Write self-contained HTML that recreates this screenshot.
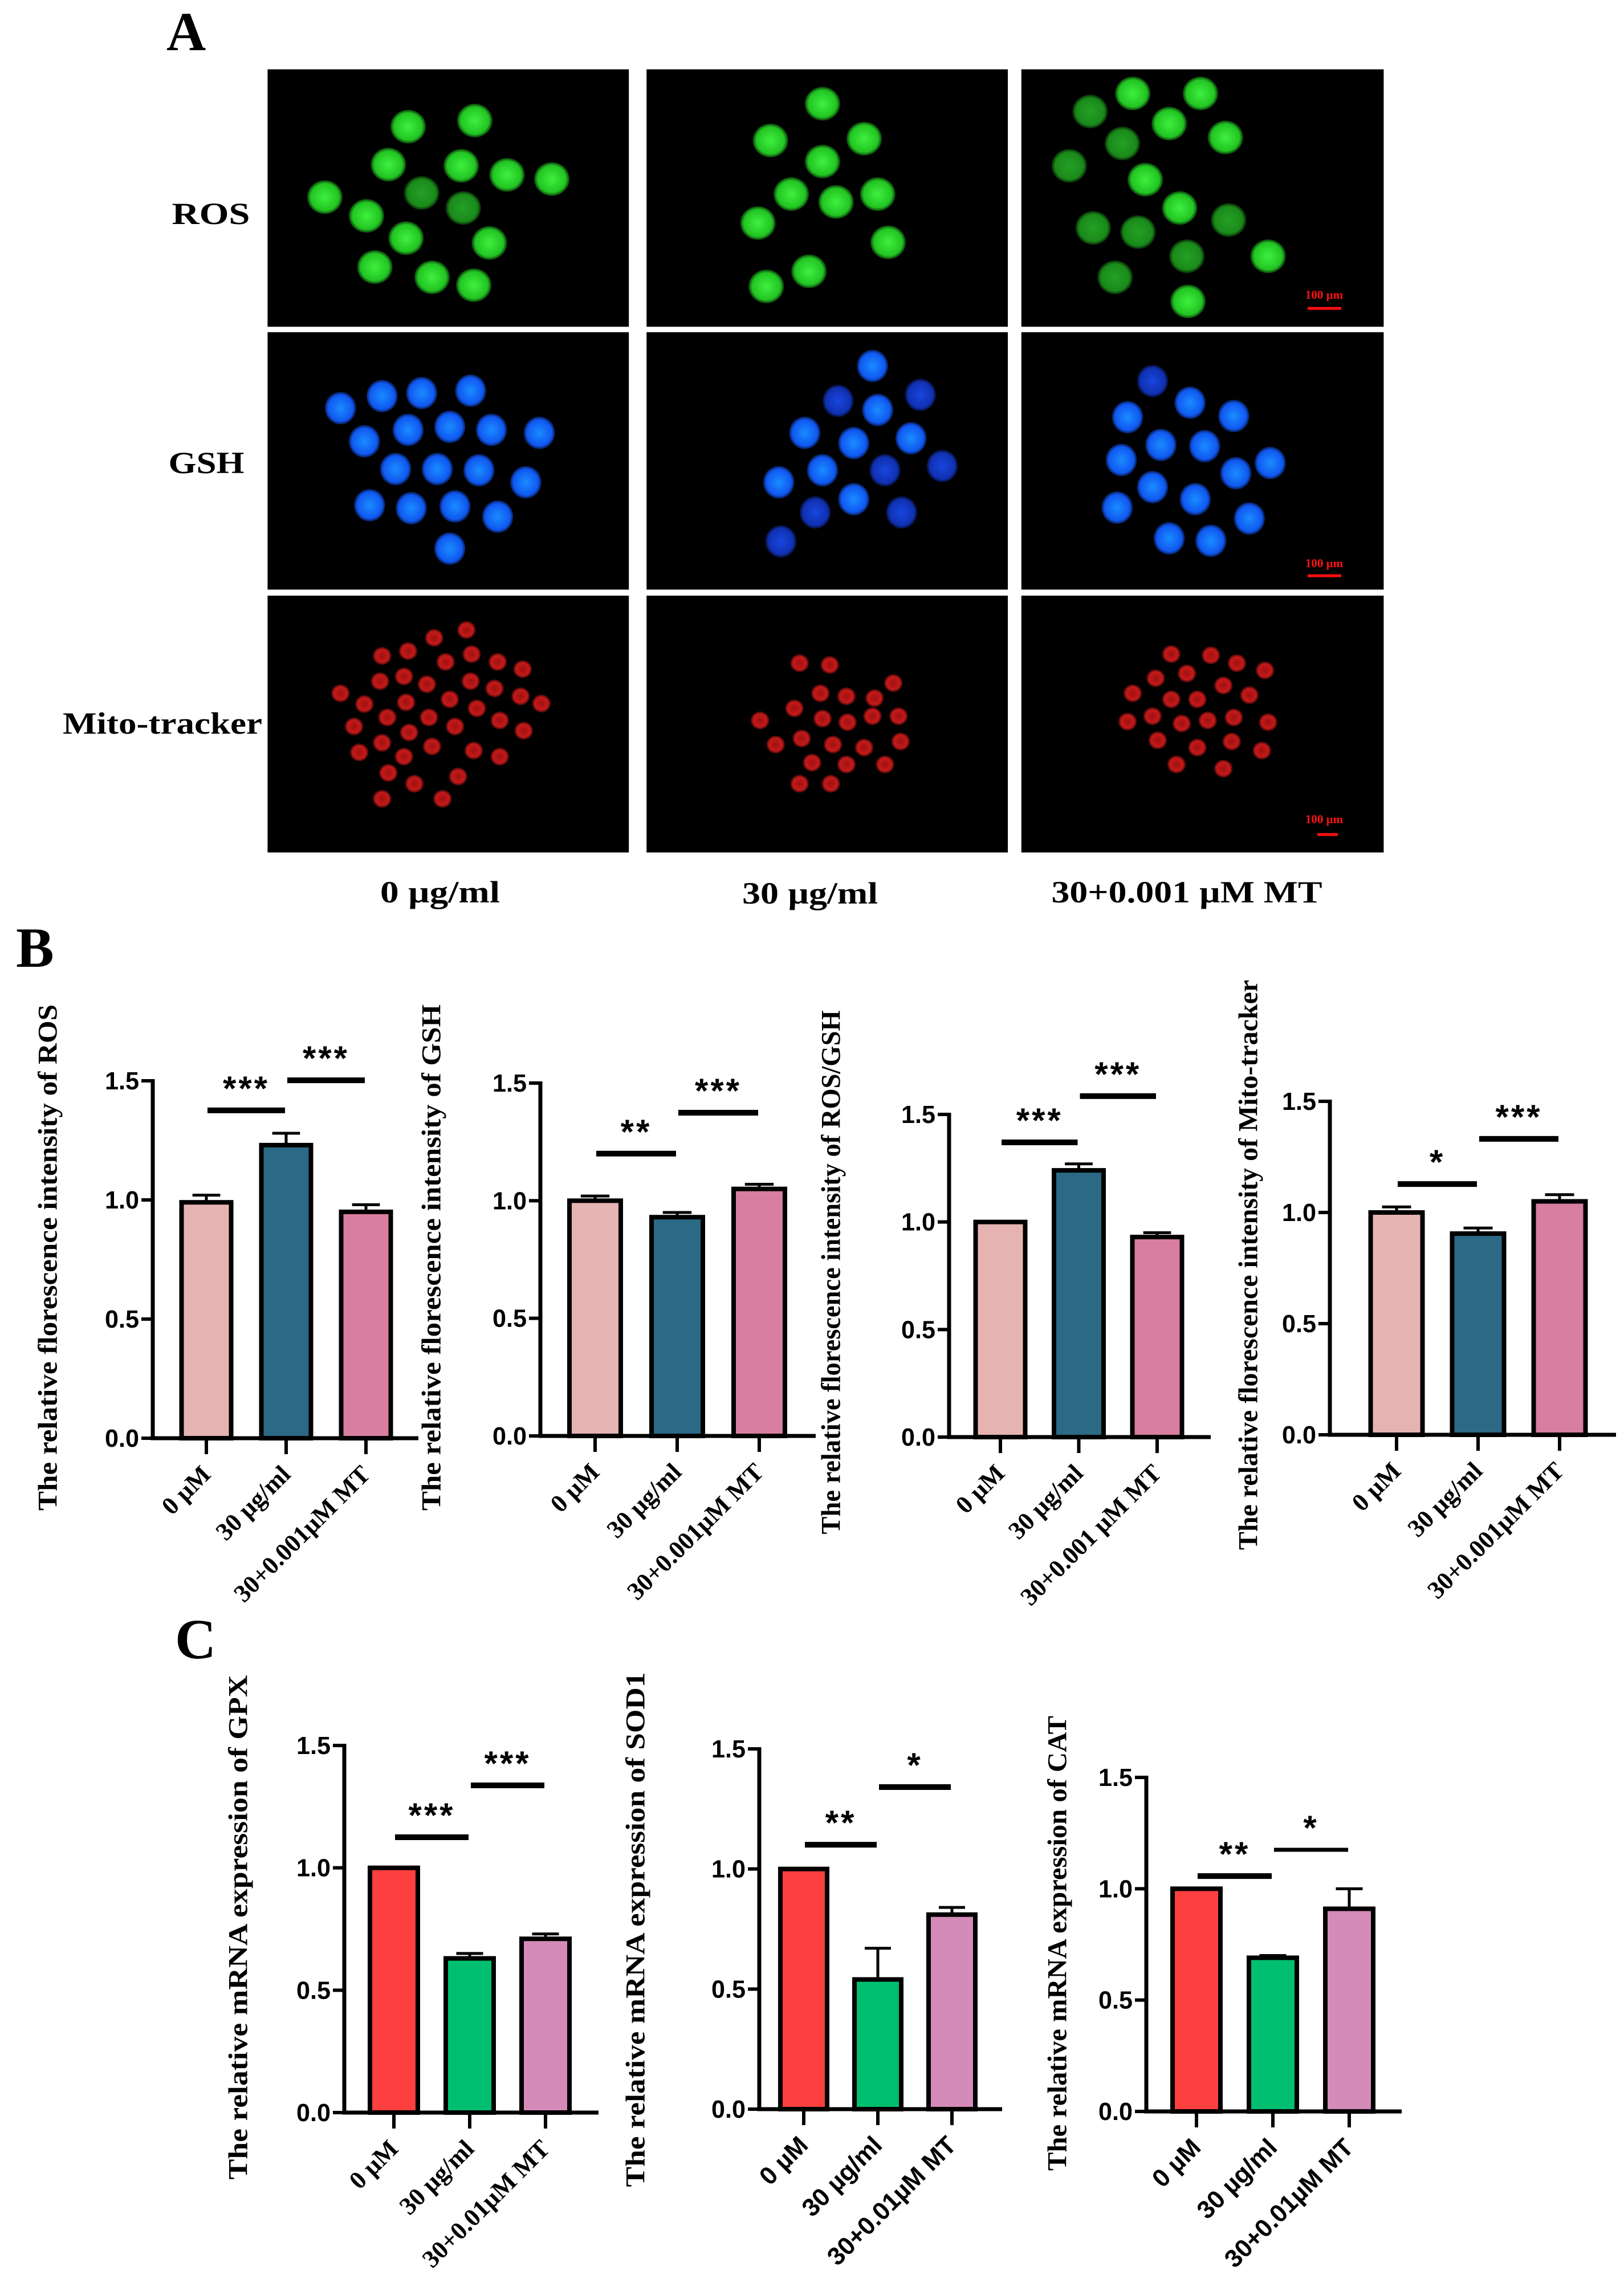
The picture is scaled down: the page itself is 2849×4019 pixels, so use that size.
<!DOCTYPE html>
<html><head><meta charset="utf-8">
<style>
html,body{margin:0;padding:0;background:#fff;}
svg{display:block;}
</style></head>
<body>
<svg id="fig" xmlns="http://www.w3.org/2000/svg" width="2849" height="4019" viewBox="0 0 2849 4019">
<defs>
<radialGradient id="gG"><stop offset="0" stop-color="#3ff03f"/><stop offset="0.8" stop-color="#22c422"/><stop offset="1" stop-color="#0a3a0a"/></radialGradient>
<radialGradient id="gGd"><stop offset="0" stop-color="#24a024"/><stop offset="0.8" stop-color="#1a8a1a"/><stop offset="1" stop-color="#062806"/></radialGradient>
<radialGradient id="gB"><stop offset="0" stop-color="#1a8cff"/><stop offset="0.8" stop-color="#1058f0"/><stop offset="1" stop-color="#061a50"/></radialGradient>
<radialGradient id="gBd"><stop offset="0" stop-color="#1846e0"/><stop offset="0.8" stop-color="#1030b0"/><stop offset="1" stop-color="#040c30"/></radialGradient>
<radialGradient id="gR"><stop offset="0" stop-color="#a01010"/><stop offset="0.7" stop-color="#c41a1a"/><stop offset="1" stop-color="#300404"/></radialGradient>
</defs>
<g id="panelA"></g>
<g id="charts"></g>
</svg>
<script>
// ---------------- Chart data ----------------
const catsB = ["0 µM", "30 µg/ml", "30+0.001µM MT"];
const catsRatio = ["0 µM", "30 µg/ml", "30+0.001 µM MT"];
const catsC = ["0 µM", "30 µg/ml", "30+0.01µM MT"];
const yTickValues = [0, 0.5, 1.0, 1.5];
const yTickLabels = ["0.0", "0.5", "1.0", "1.5"];

const valuesRos = [0.99, 1.23, 0.95];
const errRos = [0.03, 0.05, 0.03];
const valuesGsh = [1.0, 0.93, 1.05];
const errGsh = [0.02, 0.02, 0.02];
const valuesRatio = [1.0, 1.24, 0.93];
const errRatio = [0.0, 0.03, 0.02];
const valuesMito = [1.0, 0.905, 1.05];
const errMito = [0.025, 0.025, 0.03];
const valuesGpx = [1.0, 0.63, 0.71];
const errGpx = [0.0, 0.02, 0.02];
const valuesSod = [1.0, 0.54, 0.81];
const errSod = [0.0, 0.13, 0.03];
const valuesCat = [1.0, 0.69, 0.91];
const errCat = [0.0, 0.01, 0.09];

const sigRos = [{from:0,to:1,level:1.376,label:"***"},{from:1,to:2,level:1.502,label:"***"}];
const sigGsh = [{from:0,to:1,level:1.20,label:"**"},{from:1,to:2,level:1.374,label:"***"}];
const sigRatio = [{from:0,to:1,level:1.37,label:"***"},{from:1,to:2,level:1.585,label:"***"}];
const sigMito = [{from:0,to:1,level:1.128,label:"*"},{from:1,to:2,level:1.331,label:"***"}];
const sigGpx = [{from:0,to:1,level:1.125,label:"***"},{from:1,to:2,level:1.337,label:"***"}];
const sigSod = [{from:0,to:1,level:1.101,label:"**"},{from:1,to:2,level:1.341,label:"*"}];
const sigCat = [{from:0,to:1,level:1.057,label:"**"},{from:1,to:2,level:1.175,label:"*"}];

const colorsB = ["#e6b3b3", "#2b6984", "#d87ea0"];
const colorsC = ["#fd3f40", "#00bf70", "#d48bb8"];

const NS = "http://www.w3.org/2000/svg";
function mk(tag, attrs, parent){
  const e = document.createElementNS(NS, tag);
  for (const k in attrs) e.setAttribute(k, attrs[k]);
  if (parent) parent.appendChild(e);
  return e;
}

// ---------------- Panel A (microscopy) ----------------
const pa = document.getElementById('panelA');
const gA = mk('g', {transform:'scale(1.8265,1.0576)'}, pa);
const cols = [[257,604],[621,968],[981,1329]];
const rows = [[115,542],[551,978],[988,1414]];
rows.forEach((r,ri)=>cols.forEach((c,ci)=>{
  const rc = mk('rect',{x:c[0],y:r[0],width:c[1]-c[0],height:r[1]-r[0],fill:'#000'}, gA);
  
  
}));
const rosP = [
 [[392,210],[456,200],[373,273],[443,275],[487,290],[530,297],[312,327],[405,320,1],[445,345,1],[352,358],[390,395],[470,403],[360,443],[415,460],[455,473]],
 [[790,172],[740,233],[830,230],[790,268],[760,322],[803,335],[843,322],[728,370],[853,402],[777,450],[736,475]],
 [[1088,155],[1153,155],[1047,185,1],[1123,205],[1177,228],[1078,238,1],[1027,275,1],[1100,298],[1133,345],[1180,365,1],[1050,378,1],[1093,385,1],[1140,425,1],[1218,425],[1071,460,1],[1141,500]]
];
const gshP = [
 [[327,677],[367,657],[405,652],[452,648],[350,732],[392,713],[432,708],[472,713],[518,718],[380,778],[420,778],[460,780],[505,800],[355,838],[395,843],[437,840],[478,857],[432,910]],
 [[838,607],[805,665,1],[843,680],[884,655,1],[773,718],[820,735],[875,727],[790,780],[850,780,1],[905,773,1],[748,800],[820,828],[783,850,1],[866,850,1],[750,898,1]],
 [[1107,632,1],[1143,668],[1185,690],[1083,692],[1115,738],[1157,740],[1077,763],[1220,768],[1187,785],[1107,808],[1148,828],[1200,860],[1073,842],[1123,893],[1163,897]]
];
const mitoP = [
 [[448,1045],[417,1058],[367,1088],[392,1080],[428,1098],[453,1085],[478,1098],[502,1110],[327,1150],[365,1130],[388,1122],[410,1135],[452,1130],[475,1142],[500,1155],[520,1167],[350,1168],[390,1165],[432,1160],[458,1175],[372,1190],[412,1190],[480,1195],[340,1205],[437,1205],[503,1212],[367,1232],[393,1215],[415,1238],[455,1245],[345,1248],[388,1255],[480,1255],[373,1282],[440,1288],[398,1300],[367,1325],[425,1325]],
 [[768,1100],[797,1103],[858,1133],[788,1150],[813,1155],[840,1158],[763,1175],[790,1192],[814,1198],[838,1188],[863,1188],[730,1195],[770,1225],[800,1235],[830,1240],[865,1230],[745,1235],[780,1265],[813,1268],[850,1268],[768,1300],[798,1300]],
 [[1125,1085],[1163,1087],[1188,1100],[1215,1112],[1140,1117],[1110,1125],[1175,1137],[1088,1150],[1125,1160],[1150,1160],[1200,1153],[1083,1197],[1107,1188],[1135,1200],[1160,1195],[1185,1190],[1218,1198],[1112,1228],[1150,1240],[1183,1230],[1212,1245],[1130,1268],[1175,1275]]
];
rosP.forEach(set=>set.forEach(p=>mk('ellipse',{cx:p[0],cy:p[1],rx:17,ry:28,fill:p[2]?'url(#gGd)':'url(#gG)'},gA)));
gshP.forEach(set=>set.forEach(p=>mk('ellipse',{cx:p[0],cy:p[1],rx:15,ry:27,fill:p[2]?'url(#gBd)':'url(#gB)'},gA)));
mitoP.forEach(set=>set.forEach(p=>mk('ellipse',{cx:p[0],cy:p[1],rx:9,ry:15,fill:'url(#gR)'},gA)));

function txt(parent, x, y, s, attrs, name){
  const t = mk('text', Object.assign({x:x, y:y}, attrs), parent);
  t.textContent = s;
  
  
  return t;
}
const serifB = {'font-family':'"Liberation Serif", serif','font-weight':'bold'};
// scale bars
[[518,541,2294,2353],[989,1010,2294,2353],[1438,1464,2311,2347]].forEach((s,i)=>{
  txt(pa, 2323, s[0]+6, '100 µm', Object.assign({'font-size':21,fill:'#ff1010','text-anchor':'middle'},serifB), 'scale-bar-label-'+(i+1));
  const l = mk('line',{x1:s[2],x2:s[3],y1:s[1],y2:s[1],stroke:'#ff1010','stroke-width':5},pa);
  
  
});
txt(pa, 292, 88, 'A', Object.assign({'font-size':96},serifB), 'panel-label-a');
txt(pa, 370, 393, 'ROS', Object.assign({'font-size':54,'text-anchor':'middle',textLength:137,lengthAdjust:'spacingAndGlyphs'},serifB), 'row-label-ros');
txt(pa, 362, 830, 'GSH', Object.assign({'font-size':54,'text-anchor':'middle',textLength:133,lengthAdjust:'spacingAndGlyphs'},serifB), 'row-label-gsh');
txt(pa, 285, 1287, 'Mito-tracker', Object.assign({'font-size':54,'text-anchor':'middle',textLength:350,lengthAdjust:'spacingAndGlyphs'},serifB), 'row-label-mito-tracker');
txt(pa, 772, 1583, '0 µg/ml', Object.assign({'font-size':54,'text-anchor':'middle',textLength:210,lengthAdjust:'spacingAndGlyphs'},serifB), 'column-label-0');
txt(pa, 1421, 1585, '30 µg/ml', Object.assign({'font-size':54,'text-anchor':'middle',textLength:238,lengthAdjust:'spacingAndGlyphs'},serifB), 'column-label-30');
txt(pa, 2082, 1583, '30+0.001 µM MT', Object.assign({'font-size':54,'text-anchor':'middle',textLength:475,lengthAdjust:'spacingAndGlyphs'},serifB), 'column-label-30-mt');

// ---------------- Charts ----------------
const ch = document.getElementById('charts');
txt(ch, 28, 1696, 'B', Object.assign({'font-size':100},serifB), 'panel-label-b');
txt(ch, 307, 2909, 'C', Object.assign({'font-size':100},serifB), 'panel-label-c');

function drawChart(name, L, cats, vals, errs, colors, sigs, title, xSans){
  const g = mk('g', {}, ch);
  
  
  const yScale = v => L.y0 - v * (L.y0 - L.y15) / 1.5;
  const xScale = i => L.c0 + i * L.step;
  // bars
  vals.forEach((v,i)=>{
    const cx = xScale(i), top = yScale(v);
    if (errs[i] > 0){
      const et = yScale(v + errs[i]);
      const e = mk('path',{d:`M${cx},${top} V${et} M${cx-L.w*0.28},${et} H${cx+L.w*0.28}`,stroke:'#000','stroke-width':5,fill:'none'},g);
      
      
    }
    const r = mk('rect',{x:cx-L.w/2,y:top,width:L.w,height:L.y0-top,fill:colors[i],stroke:'#000','stroke-width':8},g);
    
    
  });
  // axes
  const ax = mk('path',{d:`M${L.ax},${L.y15-3} V${L.y0} H${L.xEnd}`,stroke:'#000','stroke-width':7,fill:'none'},g);
  
  
  yTickValues.forEach((v,k)=>{
    const y = yScale(v);
    const t = mk('line',{x1:L.ax-20,x2:L.ax,y1:y,y2:y,stroke:'#000','stroke-width':6},g);
    
    
    txt(g, L.ax-24, y+15, yTickLabels[k], {'font-family':'"Liberation Sans", sans-serif','font-weight':'bold','font-size':44,'text-anchor':'end',textLength:60,lengthAdjust:'spacingAndGlyphs'}, 'y-tick-label');
  });
  cats.forEach((c,i)=>{
    const x = xScale(i);
    const t = mk('line',{x1:x,x2:x,y1:L.y0,y2:L.y0+28,stroke:'#000','stroke-width':6},g);
    
    
    const ex = x + 10, ey = L.y0 + 66;
    const fam = xSans ? '"Liberation Sans", sans-serif' : '"Liberation Serif", serif';
    txt(g, ex, ey, c, {'font-family':fam,'font-weight':'bold','font-size':44,'text-anchor':'end',transform:`rotate(-45 ${ex} ${ey})`}, 'x-tick-label');
  });
  // significance
  sigs.forEach((s,k)=>{
    const y = yScale(s.level);
    const x1 = xScale(s.from) + 2, x2 = xScale(s.to) - 2;
    const ln = mk('line',{x1:x1,x2:x2,y1:y,y2:y,stroke:'#000','stroke-width':(name==='chart-cat'&&k===1)?7:10},g);
    
    
    txt(g, (x1+x2)/2, y-18, s.label, {'font-family':'"Liberation Sans", sans-serif','font-weight':'bold','font-size':60,'text-anchor':'middle','letter-spacing':4}, 'significance-label');
  });
  // title
  txt(g, L.tx, L.tcy, title, {'font-family':'"Liberation Serif", serif','font-weight':'bold','font-size':48,'text-anchor':'middle','dominant-baseline':'central',textLength:L.tlen,lengthAdjust:'spacingAndGlyphs',transform:`rotate(-90 ${L.tx} ${L.tcy})`}, 'y-axis-title');
}

drawChart('chart-ros', {ax:268,y0:2523,y15:1896,xEnd:734,c0:362,step:140,w:87,tx:84,tcy:2206,tlen:888},
  catsB, valuesRos, errRos, colorsB, sigRos, 'The relative florescence intensity of ROS', false);
drawChart('chart-gsh', {ax:948,y0:2519,y15:1900,xEnd:1431,c0:1044,step:144,w:90,tx:757,tcy:2206,tlen:888},
  catsB, valuesGsh, errGsh, colorsB, sigGsh, 'The relative florescence intensity of GSH', false);
drawChart('chart-ros-gsh', {ax:1665,y0:2521,y15:1955,xEnd:2124,c0:1755,step:137.5,w:87,tx:1458,tcy:2232,tlen:919},
  catsRatio, valuesRatio, errRatio, colorsB, sigRatio, 'The relative florescence intensity of ROS/GSH', false);
drawChart('chart-mito', {ax:2333,y0:2517,y15:1932,xEnd:2835,c0:2450,step:143,w:91,tx:2190,tcy:2219,tlen:1000},
  catsB, valuesMito, errMito, colorsB, sigMito, 'The relative florescence intensity of Mito-tracker', false);
drawChart('chart-gpx', {ax:604,y0:3706,y15:3062,xEnd:1050,c0:691,step:133,w:84,tx:418,tcy:3381,tlen:885},
  catsC, valuesGpx, errGpx, colorsC, sigGpx, 'The relative mRNA expression  of GPX', false);
drawChart('chart-sod1', {ax:1332,y0:3700,y15:3068,xEnd:1758,c0:1410,step:130,w:82,tx:1115,tcy:3385,tlen:903},
  catsC, valuesSod, errSod, colorsC, sigSod, 'The relative mRNA expression  of SOD1', true);
drawChart('chart-cat', {ax:2011,y0:3704,y15:3118,xEnd:2459,c0:2099,step:134,w:84,tx:1855,tcy:3409,tlen:798},
  catsC, valuesCat, errCat, colorsC, sigCat, 'The relative mRNA expression  of CAT', true);
</script>
</body></html>
